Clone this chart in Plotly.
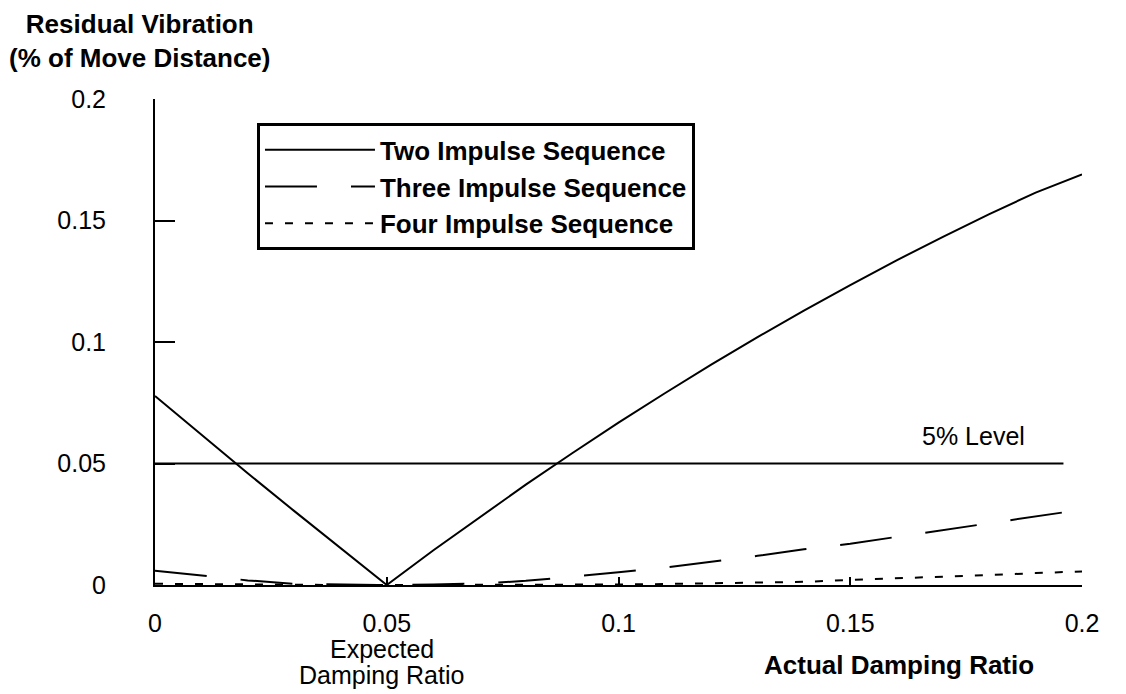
import plotly.graph_objects as go

# ---- data ----
damping = [0.00, 0.01, 0.02, 0.03, 0.04, 0.05, 0.06, 0.07, 0.08, 0.09, 0.10,
           0.11, 0.12, 0.13, 0.14, 0.15, 0.16, 0.17, 0.18, 0.19, 0.20]
two_impulse = [0.0778, 0.0618, 0.0460, 0.0305, 0.0152, 0.0000, 0.0142, 0.0279,
               0.0413, 0.0542, 0.0668, 0.0789, 0.0907, 0.1020, 0.1129, 0.1234,
               0.1336, 0.1433, 0.1526, 0.1615, 0.1690]
three_impulse = [0.0059, 0.0038, 0.0019, 0.0005, 0.0001, 0.0000, 0.0002, 0.0006,
                 0.0017, 0.0034, 0.0052, 0.0072, 0.0095, 0.0120, 0.0147, 0.0170,
                 0.0198, 0.0226, 0.0255, 0.0282, 0.0310]
four_impulse = [0.0005, 0.0003, 0.0001, 0.0000, 0.0000, 0.0000, 0.0000, 0.0000,
                0.0000, 0.0001, 0.0002, 0.0004, 0.0006, 0.0009, 0.0013, 0.0021,
                0.0027, 0.0034, 0.0041, 0.0049, 0.0056]
level_x = [0.0, 0.196]
level_y = [0.05, 0.05]

tick_vals = [0, 0.05, 0.1, 0.15, 0.2]
tick_text = ["0", "0.05", "0.1", "0.15", "0.2"]

FONT = "Liberation Sans"

fig = go.Figure()
fig.add_trace(go.Scatter(x=damping, y=two_impulse, mode="lines",
                         name="Two Impulse Sequence",
                         line=dict(color="black", width=2)))
fig.add_trace(go.Scatter(x=damping, y=three_impulse, mode="lines",
                         name="Three Impulse Sequence",
                         line=dict(color="black", width=2, dash="52px,34px")))
fig.add_trace(go.Scatter(x=damping, y=four_impulse, mode="lines",
                         name="Four Impulse Sequence",
                         line=dict(color="black", width=2, dash="8px,12px")))
fig.add_trace(go.Scatter(x=level_x, y=level_y, mode="lines", showlegend=False,
                         line=dict(color="black", width=2)))

fig.add_annotation(x=0.1765, y=0.05, yshift=12, text="5% Level", showarrow=False,
                   yanchor="bottom", font=dict(family=FONT, size=25, color="black"))
fig.add_annotation(x=0.0489, y=0, yshift=-64, text="Expected",
                   showarrow=False, yanchor="middle",
                   font=dict(family=FONT, size=25, color="black"))
fig.add_annotation(x=0.0489, y=0, yshift=-90, text="Damping Ratio",
                   showarrow=False, yanchor="middle",
                   font=dict(family=FONT, size=25, color="black"))
fig.add_annotation(x=0.1605, y=0, yshift=-80, text="Actual Damping Ratio",
                   showarrow=False, yanchor="middle",
                   font=dict(family=FONT, size=26, color="black", weight="bold"))
fig.add_annotation(x=-0.016, xref="paper", y=1.0, yref="paper", yshift=92,
                   xanchor="center", text="Residual Vibration<br>(% of Move Distance)",
                   showarrow=False, yanchor="top", align="center",
                   font=dict(family=FONT, size=26, color="black", weight="bold"))

fig.update_layout(
    width=1126, height=694,
    margin=dict(l=155, r=44, t=99, b=109),
    paper_bgcolor="white", plot_bgcolor="white",
    showlegend=True,
    legend=dict(x=0.11, y=0.95, xanchor="left", yanchor="top",
                bordercolor="black", borderwidth=3, bgcolor="white",
                itemwidth=110, tracegroupgap=0,
                font=dict(family=FONT, size=26, color="black", weight="bold")),
    font=dict(family=FONT, color="black"),
)
fig.update_xaxes(range=[0, 0.2], tickvals=tick_vals, ticktext=tick_text,
                 showgrid=False, zeroline=False, showline=True, linecolor="black",
                 linewidth=2, ticks="inside", ticklen=8, tickwidth=2, tickcolor="black",
                 ticklabelstandoff=15, tickfont=dict(family=FONT, size=25))
fig.update_yaxes(range=[0, 0.2], tickvals=tick_vals, ticktext=tick_text,
                 showgrid=False, zeroline=False, showline=True, linecolor="black",
                 linewidth=2, ticks="inside", ticklen=20, tickwidth=2, tickcolor="black",
                 ticklabelstandoff=42, tickfont=dict(family=FONT, size=25))

fig.write_html("out.html")
